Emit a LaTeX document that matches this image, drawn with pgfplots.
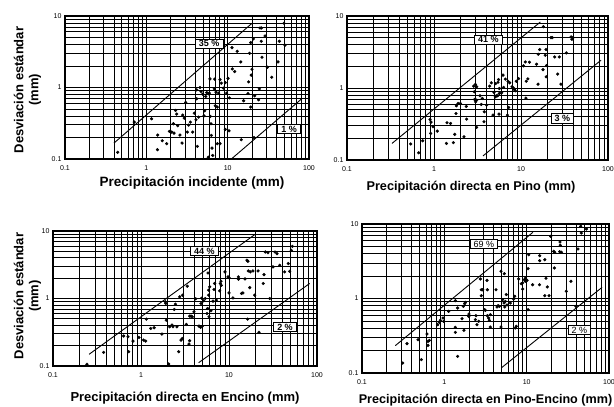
\documentclass[border=0pt]{standalone}
\usepackage{pgfplots}
\pgfplotsset{compat=1.18}
\usepackage{fontspec}
\setmainfont{Liberation Sans}

\tikzset{
  lbl/.style={draw=black, fill=white, line width=0.7pt, inner xsep=3.5pt, inner ysep=1.3pt, text height=6.6pt, text depth=0pt, font=\bfseries\fontsize{9}{9}\selectfont},
  lbln/.style={draw=black, fill=white, line width=0.7pt, inner xsep=3.5pt, inner ysep=1.3pt, text height=6.6pt, text depth=0pt, font=\fontsize{9}{9}\selectfont},
}

\begin{document}
\begin{tikzpicture}
\useasboundingbox (0,0) rectangle (614pt,407pt);

% Panel 1
\begin{axis}[xmode=log, ymode=log, scale only axis,
    xmin=0.1,xmax=100,ymin=0.1,ymax=10,
    xtick={0.1,1,10,100}, xticklabels={0.1,1,10,100},
    ytick={0.1,1,10}, yticklabels={0.1,1,10},
    minor xtick={0.2,0.3,0.4,0.5,0.6,0.7,0.8,0.9,2,3,4,5,6,7,8,9,20,30,40,50,60,70,80,90},
    minor ytick={0.2,0.3,0.4,0.5,0.6,0.7,0.8,0.9,2,3,4,5,6,7,8,9},
    grid=both, major grid style={black,line width=0.85pt}, minor grid style={black,line width=0.85pt},
    major tick length=0pt, minor tick length=0pt,
    axis line style={black,line width=1.3pt},
    tick label style={font=\fontsize{7}{8}\selectfont},
    xticklabel style={yshift=-3pt},
    anchor=south west, at={(65pt,248pt)}, width=244pt, height=143pt]
\addplot[only marks, mark=*, mark size=1.4pt, black] table {
0.445 0.124
0.711 0.328
1.16 0.365
1.38 0.216
1.37 0.135
1.57 0.180
1.78 0.164
1.92 0.243
2.05 0.238
2.15 0.311
2.19 0.230
2.29 0.478
2.36 0.425
2.43 0.292
2.59 0.216
2.75 0.167
2.80 0.411
2.93 0.373
3.05 0.618
3.19 0.238
3.31 0.298
3.48 0.328
3.71 0.238
3.89 0.438
4.08 0.354
4.16 0.695
4.16 0.927
4.24 0.150
4.40 0.385
4.57 1.00
4.70 0.879
4.93 0.807
5.12 0.402
5.21 0.472
5.37 0.749
5.52 0.851
5.84 0.816
5.78 0.106
5.95 0.834
6.06 1.32
6.12 0.394
6.24 0.311
6.30 0.214
6.42 0.142
6.54 0.112
6.92 1.31
6.86 0.958
7.05 0.555
7.19 0.861
7.46 0.532
7.46 0.164
7.75 0.834
8.05 1.29
8.05 0.164
8.36 1.15
8.85 0.979
9.36 1.17
9.36 0.259
9.72 0.834
10.1 1.34
10.4 0.248
10.5 0.717
11.3 3.61
11.4 1.82
12.2 1.67
13.1 3.21
14.5 2.28
14.7 0.186
15.7 0.652
17.8 0.825
18.1 1.20
18.6 3.01
19.2 4.25
19.2 0.532
19.5 1.49
19.9 1.80
20.7 4.78
21.1 0.199
21.5 0.765
24.0 0.673
24.5 0.958
25.0 6.80
26.0 6.80
25.9 4.43
26.4 2.65
28.8 5.26
30.8 1.92
34.8 1.39
41.6 2.28
43.2 4.43
49.3 7.90
50.7 3.90
};
\addplot[black, line width=0.9pt] coordinates {(0.40,0.167) (19.9,7.9)};
\addplot[black, line width=0.9pt] coordinates {(11.1,0.1) (80,0.684)};
\node[lbl] at (axis cs:5.93,4.12) {35 \%};
\node[lbl] at (axis cs:56.9,0.263) {1 \%};
\end{axis}

% Panel 2
\begin{axis}[xmode=log, ymode=log, scale only axis,
    xmin=0.1,xmax=100,ymin=0.1,ymax=10,
    xtick={0.1,1,10,100}, xticklabels={0.1,1,10,100},
    ytick={0.1,1,10}, yticklabels={0.1,1,10},
    minor xtick={0.2,0.3,0.4,0.5,0.6,0.7,0.8,0.9,2,3,4,5,6,7,8,9,20,30,40,50,60,70,80,90},
    minor ytick={0.2,0.3,0.4,0.5,0.6,0.7,0.8,0.9,2,3,4,5,6,7,8,9},
    grid=both, major grid style={black,line width=0.85pt}, minor grid style={black,line width=0.85pt},
    major tick length=0pt, minor tick length=0pt,
    axis line style={black,line width=1.3pt},
    tick label style={font=\fontsize{7}{8}\selectfont},
    xticklabel style={yshift=-3pt},
    anchor=south west, at={(347pt,247pt)}, width=261pt, height=144pt]
\addplot[only marks, mark=*, mark size=1.4pt, black] table {
0.540 0.167
0.667 0.126
0.741 0.185
0.900 0.366
0.924 0.336
0.916 0.234
0.974 0.290
1.09 0.252
1.39 0.170
1.41 0.329
1.55 0.322
1.67 0.174
1.73 0.227
1.79 0.443
1.81 0.566
1.89 0.610
2.01 0.610
2.21 0.210
2.35 0.554
2.37 0.370
2.86 1.06
2.91 0.885
2.99 1.12
3.09 1.04
2.93 0.693
3.09 0.678
3.01 0.643
3.09 0.284
3.38 0.779
3.50 0.591
3.59 0.716
3.76 0.340
3.79 0.467
4.03 0.578
4.36 1.06
4.56 1.18
4.77 0.420
4.89 0.866
5.07 0.754
5.11 1.15
5.20 0.779
5.39 0.779
5.44 1.20
5.53 1.31
5.59 0.434
5.64 0.984
5.64 0.839
6.00 0.857
6.21 1.51
6.32 1.02
6.61 1.33
6.97 0.420
7.09 1.24
7.21 0.537
7.41 1.18
7.88 1.04
8.16 1.00
8.38 0.953
8.61 0.914
8.84 1.24
9.40 1.35
10.7 2.03
11.2 2.30
11.4 0.723
11.5 1.24
12.0 1.34
12.5 2.28
15.1 2.14
15.8 2.94
16.4 3.42
15.7 1.13
18.1 7.11
17.9 1.80
19.4 3.42
19.0 2.85
19.7 2.05
19.5 1.43
22.1 5.01
22.9 5.01
24.4 2.70
27.6 2.70
26.4 1.56
28.8 1.13
33.2 3.07
37.6 5.12
39.6 5.01
38.5 4.75
};
\addplot[black, line width=0.9pt] coordinates {(0.329,0.170) (16.7,8.26)};
\addplot[black, line width=0.9pt] coordinates {(3.66,0.114) (83.1,2.43)};
\node[lbl] at (axis cs:4.21,4.70) {41 \%};
\node[lbl] at (axis cs:29.9,0.378) {3 \%};
\end{axis}

% Panel 3
\begin{axis}[xmode=log, ymode=log, scale only axis,
    xmin=0.1,xmax=100,ymin=0.1,ymax=10,
    xtick={0.1,1,10,100}, xticklabels={0.1,1,10,100},
    ytick={0.1,1,10}, yticklabels={0.1,1,10},
    minor xtick={0.2,0.3,0.4,0.5,0.6,0.7,0.8,0.9,2,3,4,5,6,7,8,9,20,30,40,50,60,70,80,90},
    minor ytick={0.2,0.3,0.4,0.5,0.6,0.7,0.8,0.9,2,3,4,5,6,7,8,9},
    grid=both, major grid style={black,line width=0.85pt}, minor grid style={black,line width=0.85pt},
    major tick length=0pt, minor tick length=0pt,
    axis line style={black,line width=1.3pt},
    tick label style={font=\fontsize{7}{8}\selectfont},
    xticklabel style={yshift=-3pt},
    anchor=south west, at={(53pt,41pt)}, width=264pt, height=135pt]
\addplot[only marks, mark=*, mark size=1.4pt, black] table {
0.243 0.106
0.376 0.159
0.635 0.278
0.712 0.271
0.724 0.163
0.811 0.234
0.949 0.265
1.07 0.242
1.13 0.234
1.15 0.495
1.29 0.360
1.41 0.369
1.73 0.297
1.89 0.893
1.91 0.843
1.94 0.478
2.06 0.107
2.12 0.381
2.25 0.404
2.31 0.381
2.39 0.688
2.46 0.824
2.56 0.381
2.68 0.163
2.75 1.06
2.85 0.242
2.95 0.256
2.97 1.12
3.27 0.413
3.36 1.52
3.51 0.211
3.57 0.237
3.57 0.548
3.70 0.548
3.83 0.536
4.00 0.635
4.18 0.989
4.56 0.390
4.76 0.373
4.98 0.390
4.81 0.843
4.89 1.01
5.15 0.924
5.38 1.00
5.62 0.600
5.72 0.711
5.77 2.39
5.87 1.12
5.87 1.33
6.03 1.49
5.93 0.536
6.24 0.657
6.58 0.913
6.76 1.36
6.87 1.67
7.18 0.945
7.83 1.30
7.97 1.67
8.11 1.80
8.18 1.57
9.01 2.48
9.75 2.09
10.0 2.04
10.0 1.21
11.1 1.02
12.8 2.09
12.8 1.93
13.9 1.19
14.4 1.21
15.2 1.95
16.0 3.69
16.4 3.56
16.3 0.495
16.6 2.56
17.2 1.45
17.5 2.48
18.7 2.56
19.6 1.12
21.4 2.56
21.9 0.315
25.0 2.26
24.5 1.67
25.9 4.89
27.7 4.78
29.0 1.00
31.6 2.94
33.3 4.89
35.1 4.62
37.7 3.11
42.9 2.48
47.2 3.29
48.9 2.53
51.1 5.18
52.5 5.93
};
\addplot[black, line width=0.9pt] coordinates {(0.257,0.149) (19.6,8.83)};
\addplot[black, line width=0.9pt] coordinates {(4.52,0.112) (82.6,1.67)};
\node[lbl] at (axis cs:5.25,5.06) {44 \%};
\node[lbl] at (axis cs:43.3,0.381) {2 \%};
\end{axis}

% Panel 4
\begin{axis}[xmode=log, ymode=log, scale only axis,
    xmin=0.1,xmax=100,ymin=0.1,ymax=10,
    xtick={0.1,1,10,100}, xticklabels={0.1,1,10,100},
    ytick={0.1,1,10}, yticklabels={0.1,1,10},
    minor xtick={0.2,0.3,0.4,0.5,0.6,0.7,0.8,0.9,2,3,4,5,6,7,8,9,20,30,40,50,60,70,80,90},
    minor ytick={0.2,0.3,0.4,0.5,0.6,0.7,0.8,0.9,2,3,4,5,6,7,8,9},
    grid=both, major grid style={black,line width=0.85pt}, minor grid style={black,line width=0.85pt},
    major tick length=0pt, minor tick length=0pt,
    axis line style={black,line width=1.3pt},
    tick label style={font=\fontsize{7}{8}\selectfont},
    xticklabel style={yshift=-3pt},
    anchor=south west, at={(362pt,34pt)}, width=247pt, height=149pt]
\addplot[only marks, mark=*, mark size=1.4pt, black] table {
0.312 0.136
0.352 0.248
0.479 0.280
0.526 0.151
0.616 0.334
0.633 0.266
0.633 0.235
0.657 0.274
0.830 0.445
0.869 0.479
0.894 0.509
0.963 0.547
0.982 0.494
1.13 0.673
1.36 0.410
1.36 0.351
1.36 0.935
1.45 0.167
1.45 0.745
1.64 0.536
1.70 0.785
1.73 0.374
1.77 0.853
1.80 0.889
1.98 0.576
1.99 0.619
2.38 0.520
2.42 0.588
2.49 0.445
2.61 0.494
2.74 1.83
2.81 1.09
2.81 1.31
2.92 1.31
3.09 0.708
3.15 0.693
3.30 1.75
3.33 1.31
3.33 0.588
3.45 0.547
3.52 0.509
3.62 0.414
3.62 0.607
4.24 1.31
4.36 0.769
4.49 0.801
4.66 0.785
4.88 0.414
4.88 2.32
5.11 0.965
5.35 2.15
5.31 0.870
5.41 0.769
5.51 0.916
5.66 1.13
5.77 0.818
6.33 0.870
6.95 0.985
7.15 1.07
7.28 0.402
7.49 0.423
8.00 1.83
8.61 1.58
8.94 1.34
8.94 1.62
9.37 1.79
9.64 1.70
9.64 1.88
10.1 1.75
10.4 2.51
10.4 0.708
10.6 3.87
11.8 1.53
14.3 1.53
14.4 3.76
14.4 3.22
16.6 3.32
16.6 1.09
17.2 1.87
17.8 1.43
18.7 1.09
19.6 6.83
21.3 4.30
21.7 2.57
21.9 4.17
25.2 4.25
25.4 5.73
25.6 5.17
26.4 4.17
30.3 1.25
34.5 1.70
39.7 0.785
42.0 4.62
45.3 9.31
46.1 7.57
53.1 8.57
};
\addplot[black, line width=0.9pt] coordinates {(0.254,0.233) (11.9,7.73)};
\addplot[black, line width=0.9pt] coordinates {(4.92,0.117) (82.2,1.41)};
\node[lbln] at (axis cs:3.03,5.39) {69 \%};
\node[lbln] at (axis cs:43.6,0.378) {2 \%};
\end{axis}

% Labels
\node[rotate=90, align=center, font=\bfseries\fontsize{13}{15}\selectfont] at (27.5pt,317pt) {Desviación estándar\\(mm)};
\node[rotate=90, align=center, font=\bfseries\fontsize{13}{15}\selectfont] at (27.5pt,111pt) {Desviación estándar\\(mm)};
\node[font=\bfseries\fontsize{13.5}{15}\selectfont] at (192pt,224pt) {Precipitación incidente (mm)};
\node[font=\bfseries\fontsize{12.7}{15}\selectfont] at (471pt,220pt) {Precipitación directa en Pino (mm)};
\node[font=\bfseries\fontsize{13}{15}\selectfont] at (185pt,9pt) {Precipitación directa en Encino (mm)};
\node[font=\bfseries\fontsize{12.6}{15}\selectfont] at (485.5pt,7pt) {Precipitación directa en Pino-Encino (mm)};
\end{tikzpicture}
\end{document}
